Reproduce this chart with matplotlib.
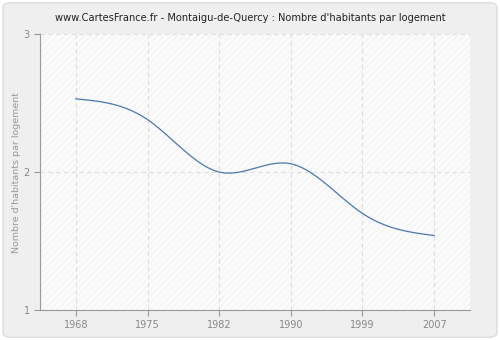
import numpy as np
import matplotlib
matplotlib.use("Agg")
import matplotlib.pyplot as plt
from matplotlib.patches import FancyBboxPatch, Rectangle

# données
annees = ["1968", "1975", "1982", "1990", "1999", "2007"]
habitants_par_logement = [2.53, 2.38, 2.00, 2.06, 1.70, 1.54]
y_ticks = [1, 2, 3]

titre = "www.CartesFrance.fr - Montaigu-de-Quercy : Nombre d'habitants par logement"
ylabel = "Nombre d'habitants par logement"


def spline_naturelle(x, y, n=300):
    # spline cubique naturelle, juste pour le rendu lissé de la courbe
    x = np.asarray(x, float)
    y = np.asarray(y, float)
    k = len(x)
    h = np.diff(x)
    A = np.zeros((k, k))
    b = np.zeros(k)
    A[0, 0] = A[-1, -1] = 1
    for i in range(1, k - 1):
        A[i, i - 1] = h[i - 1]
        A[i, i] = 2 * (h[i - 1] + h[i])
        A[i, i + 1] = h[i]
        b[i] = 3 * ((y[i + 1] - y[i]) / h[i] - (y[i] - y[i - 1]) / h[i - 1])
    c = np.linalg.solve(A, b)
    xs = np.linspace(x[0], x[-1], n)
    ys = np.empty_like(xs)
    for j, xv in enumerate(xs):
        i = min(np.searchsorted(x, xv, side="right") - 1, k - 2)
        dx = xv - x[i]
        bi = (y[i + 1] - y[i]) / h[i] - h[i] * (2 * c[i] + c[i + 1]) / 3
        di = (c[i + 1] - c[i]) / (3 * h[i])
        ys[j] = y[i] + bi * dx + c[i] * dx ** 2 + di * dx ** 3
    return xs, ys


fig = plt.figure(figsize=(5, 3.4), dpi=100)
fig.patch.set_facecolor("white")

# cadre arrondi gris clair
fig.patches.append(FancyBboxPatch((0.006, 0.008), 0.988, 0.984,
                                  boxstyle="round,pad=0,rounding_size=0.015",
                                  transform=fig.transFigure, facecolor="#efefef",
                                  edgecolor="#dcdcdc", linewidth=1, zorder=-10))

ax = fig.add_axes([0.08, 0.088, 0.86, 0.812])
ax.set_zorder(1)
ax.set_facecolor("#fbfbfb")
plt.rcParams["hatch.linewidth"] = 0.6
ax.add_patch(Rectangle((0, 0), 1, 1, transform=ax.transAxes, facecolor="none",
                       edgecolor="#f1f1f1", hatch="/////", linewidth=0, zorder=0))

x = np.arange(len(annees))
xs, ys = spline_naturelle(x, habitants_par_logement)
ax.plot(xs, ys, color="#4a78b0", linewidth=0.9, zorder=3)

ax.set_xlim(-0.5, len(annees) - 0.5)
ax.set_ylim(1, 3)
ax.set_xticks(x)
ax.set_xticklabels(annees)
ax.set_yticks(y_ticks)

ax.grid(True, color="#dedede", linestyle=(0, (4, 3)), linewidth=0.8)
ax.set_axisbelow(True)

for s in ["top", "right"]:
    ax.spines[s].set_visible(False)
for s in ["left", "bottom"]:
    ax.spines[s].set_color("#999999")
ax.tick_params(colors="#999999", labelcolor="#888888", labelsize=7, length=4, width=0.8)

ax.set_ylabel(ylabel, color="#999999", fontsize=6.8, labelpad=2)
fig.text(0.5, 0.948, titre, ha="center", va="center", fontsize=7.1, color="#222222")

fig.savefig("out.png", dpi=100)
